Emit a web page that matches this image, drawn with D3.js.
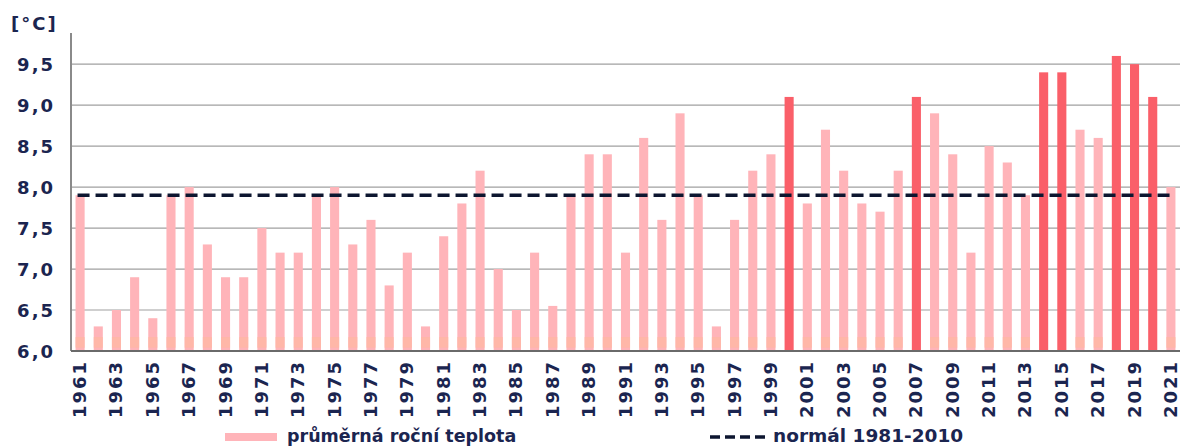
<!DOCTYPE html>
<html>
<head>
	<meta charset="utf-8">
	<script src="https://cdn.jsdelivr.net/npm/d3@7"></script>
	<style>
		body { margin: 0; background: #fff; }
		text { font-family: "DejaVu Sans", Verdana, sans-serif; font-weight: bold; fill: #1b2550; }
	</style>
</head>
<body>
	<script>
		// mean annual temperature, Czech Republic
		var years = d3.range(1961, 2022);
		var temps = [7.9, 6.3, 6.5, 6.9, 6.4, 7.9, 8.0, 7.3, 6.9, 6.9,
			7.5, 7.2, 7.2, 7.9, 8.0, 7.3, 7.6, 6.8, 7.2, 6.3,
			7.4, 7.8, 8.2, 7.0, 6.5, 7.2, 6.55, 7.9, 8.4, 8.4,
			7.2, 8.6, 7.6, 8.9, 7.9, 6.3, 7.6, 8.2, 8.4, 9.1,
			7.8, 8.7, 8.2, 7.8, 7.7, 8.2, 9.1, 8.9, 8.4, 7.2,
			8.5, 8.3, 7.9, 9.4, 9.4, 8.7, 8.6, 9.6, 9.5, 9.1,
			8.0];
		var hotYears = [2000, 2007, 2014, 2015, 2018, 2019, 2020];
		var normal = 7.9;
		var yTicks = [6.0, 6.5, 7.0, 7.5, 8.0, 8.5, 9.0, 9.5];

		var W = 1180, H = 446;
		var mLeft = 71, mRight = 1180, mTop = 33, mBottom = 351;

		var svg = d3.select('body').append('svg')
			.attr('width', W)
			.attr('height', H);

		// light bars get a faint orange tint near the base
		var grad = svg.append('defs').append('linearGradient')
			.attr('id', 'pinkGrad')
			.attr('x1', 0).attr('y1', 0).attr('x2', 0).attr('y2', 1)
			.attr('gradientUnits', 'objectBoundingBox');
		grad.append('stop').attr('offset', '0%').attr('stop-color', '#ffb4b9');
		grad.append('stop').attr('offset', '100%').attr('stop-color', '#ffb4b9');

		var x = d3.scaleBand()
			.domain(years)
			.range([mLeft, mRight])
			.paddingInner(0.5)
			.paddingOuter(0.25);

		var y = d3.scaleLinear()
			.domain([6, 9.88])
			.range([mBottom, mTop]);

		// grid
		svg.append('g')
			.selectAll('line')
			.data(yTicks.slice(1))
			.enter().append('line')
			.attr('x1', mLeft).attr('x2', mRight)
			.attr('y1', function(d){ return y(d); })
			.attr('y2', function(d){ return y(d); })
			.attr('stroke', '#a0a0a0')
			.attr('stroke-width', 1.2);

		// y labels
		var yAxis = d3.axisLeft(y)
			.tickValues(yTicks)
			.tickSize(0)
			.tickPadding(16)
			.tickFormat(function(d){ return d3.format('.1f')(d).replace('.', ','); });
		var ya = svg.append('g')
			.attr('transform', 'translate(' + mLeft + ',0)')
			.call(yAxis);
		ya.select('.domain').remove();
		ya.selectAll('text')
			.style('font-size', '18px')
			.style('letter-spacing', '2px')
			.attr('dy', '0.36em');

		svg.append('text')
			.attr('x', 11).attr('y', 30)
			.style('font-size', '18px')
			.style('letter-spacing', '2px')
			.text('[°C]');

		// bars
		var bars = svg.append('g')
			.selectAll('g')
			.data(years)
			.enter().append('g');

		bars.append('rect')
			.attr('x', function(d){ return x(d); })
			.attr('width', x.bandwidth())
			.attr('y', function(d, i){ return y(temps[i]); })
			.attr('height', function(d, i){ return mBottom - y(temps[i]); })
			.attr('fill', function(d){ return hotYears.indexOf(d) >= 0 ? '#fa5f69' : '#ffb4b9'; });

		// orange-ish tint band at the bottom of the light bars
		bars.filter(function(d){ return hotYears.indexOf(d) < 0; })
			.append('rect')
			.attr('x', function(d){ return x(d); })
			.attr('width', x.bandwidth())
			.attr('y', y(6.17))
			.attr('height', y(6.04) - y(6.17))
			.attr('fill', '#ffb8a4')
			.attr('opacity', 0.8);

		// axes lines
		svg.append('line')
			.attr('x1', mLeft).attr('x2', mLeft)
			.attr('y1', mTop).attr('y2', mBottom)
			.attr('stroke', '#8a8a8a').attr('stroke-width', 2);
		svg.append('line')
			.attr('x1', mLeft).attr('x2', mRight)
			.attr('y1', mBottom).attr('y2', mBottom)
			.attr('stroke', '#6a6a6a').attr('stroke-width', 2);

		// normal line
		svg.append('line')
			.attr('x1', x(1961) + 2).attr('x2', x(2021) + x.bandwidth())
			.attr('y1', y(normal)).attr('y2', y(normal))
			.attr('stroke', '#0d1630')
			.attr('stroke-width', 3.5)
			.attr('stroke-dasharray', '12,6');

		// x labels, odd years
		svg.append('g')
			.selectAll('text')
			.data(years.filter(function(d){ return d % 2 === 1; }))
			.enter().append('text')
			.attr('transform', function(d){
				return 'translate(' + (x(d) + x.bandwidth() / 2 + 6) + ',' + (mBottom + 9) + ') rotate(-90)';
			})
			.attr('text-anchor', 'end')
			.style('font-size', '18px')
			.style('letter-spacing', '2px')
			.text(function(d){ return d; });

		// legend
		var lg = svg.append('g');
		lg.append('rect')
			.attr('x', 225).attr('y', 433)
			.attr('width', 52).attr('height', 8)
			.attr('fill', '#ffb4b9');
		lg.append('text')
			.attr('x', 287).attr('y', 442)
			.style('font-size', '17.5px')
			.text('průměrná roční teplota');
		lg.append('line')
			.attr('x1', 710).attr('x2', 766)
			.attr('y1', 437).attr('y2', 437)
			.attr('stroke', '#0d1630')
			.attr('stroke-width', 3.5)
			.attr('stroke-dasharray', '10,5');
		lg.append('text')
			.attr('x', 773).attr('y', 442)
			.style('font-size', '18.5px')
			.text('normál 1981-2010');
	</script>
</body>
</html>
